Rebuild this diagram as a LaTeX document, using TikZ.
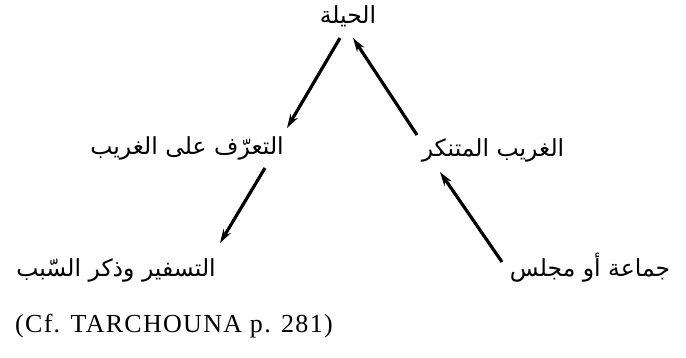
\documentclass[tikz,border=0pt]{standalone}
\usepackage{fontspec}
\setmainfont{Liberation Serif}
\newfontfamily\arabicfont[Script=Arabic]{DejaVu Sans}
\newfontfamily\capfont[LetterSpace=5]{Liberation Serif}
\TeXXeTstate=1
\usetikzlibrary{arrows.meta,calc}
\begin{document}
\begin{tikzpicture}[x=1pt,y=-1pt,
  lbl/.style={inner sep=0pt, font=\arabicfont\fontsize{23.5}{26}\selectfont},
  link/.style={line width=3.2pt, -{Stealth[length=14pt,width=8.5pt]}}]
\useasboundingbox (0,0) rectangle (686,358);

% labels of the scheme
\node[lbl] (hila)   at (348,16)  {\beginR الحيلة\endR};
\node[lbl] (taarof) at (187,148) {\beginR التعرّف على الغريب\endR};
\node[lbl] (gharib) at (493,150) {\beginR الغريب المتنكر\endR};
\node[lbl] (tasfir) at (116,270) {\beginR التسفير وذكر السّبب\endR};
\node[lbl] (jamaa)  at (590,268) {\beginR جماعة أو مجلس\endR};

% source reference
\node[inner sep=0pt, anchor=west, font=\capfont\fontsize{26}{30}\selectfont]
  (cite) at (15,326) {(Cf. TARCHOUNA p. 281)};

% arrows of the scheme
\draw[link] ($(hila)+(-8,22)$)    -- ($(taarof)+(100,-20)$);
\draw[link] ($(taarof)+(78,20)$)  -- ($(tasfir)+(104,-27)$);
\draw[link] ($(jamaa)+(-88,-6)$)  -- ($(gharib)+(-53,22)$);
\draw[link] ($(gharib)+(-76,-15)$) -- ($(hila)+(5,22)$);
\end{tikzpicture}
\end{document}
